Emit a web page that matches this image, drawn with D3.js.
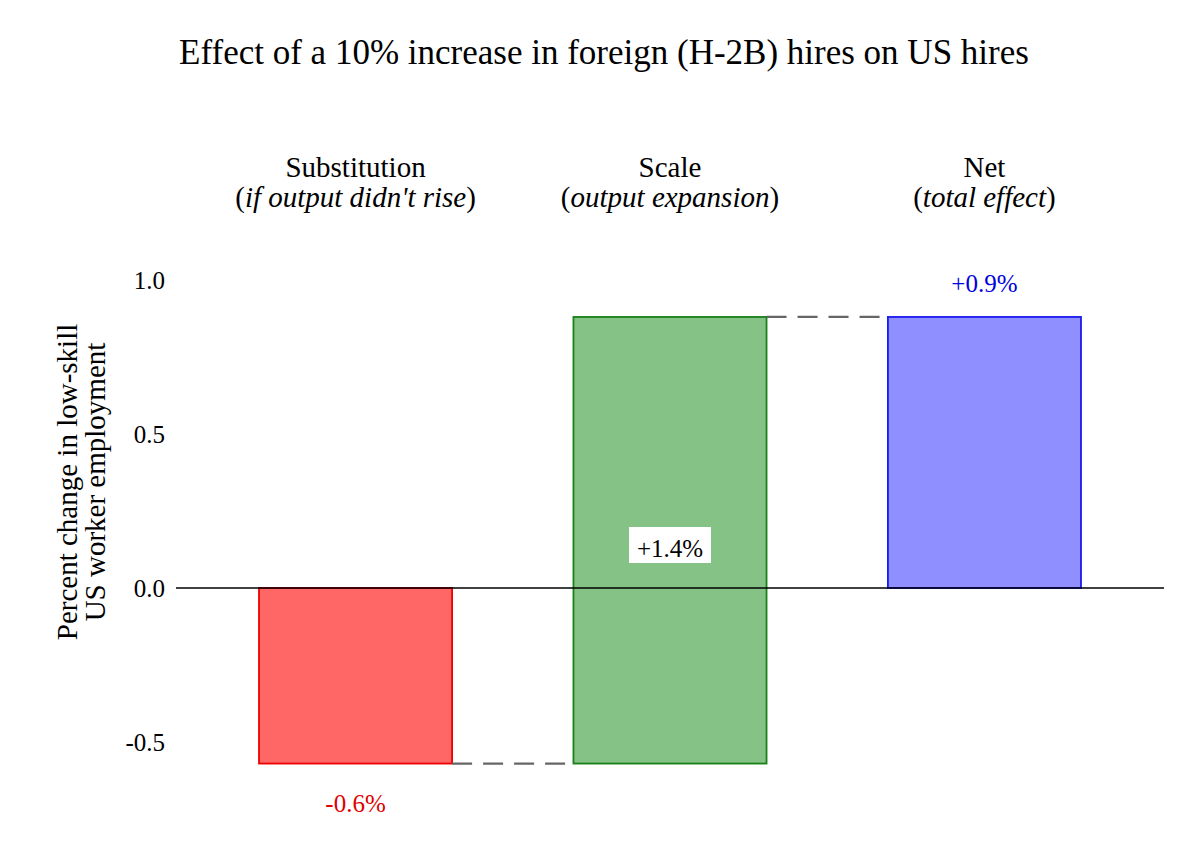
<!DOCTYPE html>
<html>
<head>
<meta charset="utf-8">
<script src="https://d3js.org/d3.v7.min.js"></script>
<style>
  body { margin: 0; background: #fff; }
  text { font-family: "Liberation Serif", "DejaVu Serif", serif; }
</style>
</head>
<body>
<div id="chart"></div>
<script>
// data
var categories = ["Substitution", "Scale", "Net"];
var subtitles = ["if output didn't rise", "output expansion", "total effect"];
var changes = [-0.57, 1.45, 0.88];      // change contributed by each bar
var isTotal = [false, false, true];     // net bar starts from zero
var labels = ["-0.6%", "+1.4%", "+0.9%"];
var yTicks = [-0.5, 0.0, 0.5, 1.0];

var fills = ["#ff6666", "#85c285", "#8f8fff"];
var strokes = ["#ee0000", "#1a801a", "#1a1aee"];
var labelColors = ["#e00000", "#000000", "#0000dd"];

var width = 1200, height = 860;

var svg = d3.select("#chart").append("svg")
  .attr("width", width)
  .attr("height", height);

// waterfall start/end
var running = 0;
var bars = categories.map(function(c, i) {
  var start = isTotal[i] ? 0 : running;
  var end = isTotal[i] ? changes[i] : running + changes[i];
  running = end;
  return { name: c, sub: subtitles[i], start: start, end: end, i: i };
});

var x = d3.scaleBand()
  .domain(categories)
  .range([176, 1164])
  .paddingInner(0.386)
  .paddingOuter(0.264);

var y = d3.scaleLinear()
  .domain([-0.7, 1.1])
  .range([588 + 0.7 * 308, 588 - 1.1 * 308]);

// title
svg.append("text")
  .attr("x", 604)
  .attr("y", 64)
  .attr("text-anchor", "middle")
  .style("font-size", "35px")
  .text("Effect of a 10% increase in foreign (H-2B) hires on US hires");

// category headers
var head = svg.selectAll(".head")
  .data(bars)
  .enter().append("text")
  .attr("class", "head")
  .attr("text-anchor", "middle")
  .style("font-size", "29px");
head.append("tspan")
  .attr("x", function(d) { return x(d.name) + x.bandwidth() / 2; })
  .attr("y", 177)
  .text(function(d) { return d.name; });
var line2 = head.append("tspan")
  .attr("x", function(d) { return x(d.name) + x.bandwidth() / 2; })
  .attr("y", 207);
line2.append("tspan").text("(");
line2.append("tspan").style("font-style", "italic").text(function(d) { return d.sub; });
line2.append("tspan").text(")");

// y axis tick labels
var yAxis = d3.axisLeft(y).tickValues(yTicks)
  .tickFormat(function(d) { return d3.format(".1f")(d).replace("\u2212", "-"); })
  .tickSize(0).tickPadding(0);
var gy = svg.append("g")
  .attr("transform", "translate(165,0)")
  .call(yAxis);
gy.select(".domain").remove();
gy.selectAll("text")
  .style("font-family", "'Liberation Serif', serif")
  .style("font-size", "25px")
  .attr("fill", "#000");

// y label
var yl = svg.append("text")
  .attr("transform", "translate(82,482) rotate(-90)")
  .attr("text-anchor", "middle")
  .style("font-size", "29px");
yl.append("tspan").attr("x", 0).attr("y", -5).text("Percent change in low-skill");
yl.append("tspan").attr("x", 0).attr("y", 23).text("US worker employment");

// bars
svg.selectAll(".bar")
  .data(bars)
  .enter().append("rect")
  .attr("class", "bar")
  .attr("x", function(d) { return x(d.name); })
  .attr("width", x.bandwidth())
  .attr("y", function(d) { return y(Math.max(d.start, d.end)); })
  .attr("height", function(d) { return Math.abs(y(d.start) - y(d.end)); })
  .attr("fill", function(d) { return fills[d.i]; })
  .attr("stroke", function(d) { return strokes[d.i]; })
  .attr("stroke-width", 1.8);

// zero line
svg.append("line")
  .attr("x1", 176).attr("x2", 1164)
  .attr("y1", y(0)).attr("y2", y(0))
  .attr("stroke", "#000")
  .attr("stroke-width", 1.6);

// connectors
for (var i = 0; i < bars.length - 1; i++) {
  svg.append("line")
    .attr("x1", x(bars[i].name) + x.bandwidth())
    .attr("x2", x(bars[i + 1].name))
    .attr("y1", y(bars[i].end))
    .attr("y2", y(bars[i].end))
    .attr("stroke", "#666")
    .attr("stroke-width", 2.2)
    .attr("stroke-dasharray", "20,11");
}

// value labels
bars.forEach(function(d) {
  var cx = x(d.name) + x.bandwidth() / 2;
  var ly;
  if (d.i === 0) ly = y(d.end) + 48;
  else if (d.i === 2) ly = y(d.end) - 25;
  else ly = y(0) - 31;
  if (d.i === 1) {
    svg.append("rect")
      .attr("x", cx - 41).attr("y", ly - 30)
      .attr("width", 82).attr("height", 36)
      .attr("fill", "#fff");
  }
  svg.append("text")
    .attr("x", cx)
    .attr("y", ly)
    .attr("text-anchor", "middle")
    .attr("fill", labelColors[d.i])
    .style("font-size", "25px")
    .text(labels[d.i]);
});
</script>
</body>
</html>
